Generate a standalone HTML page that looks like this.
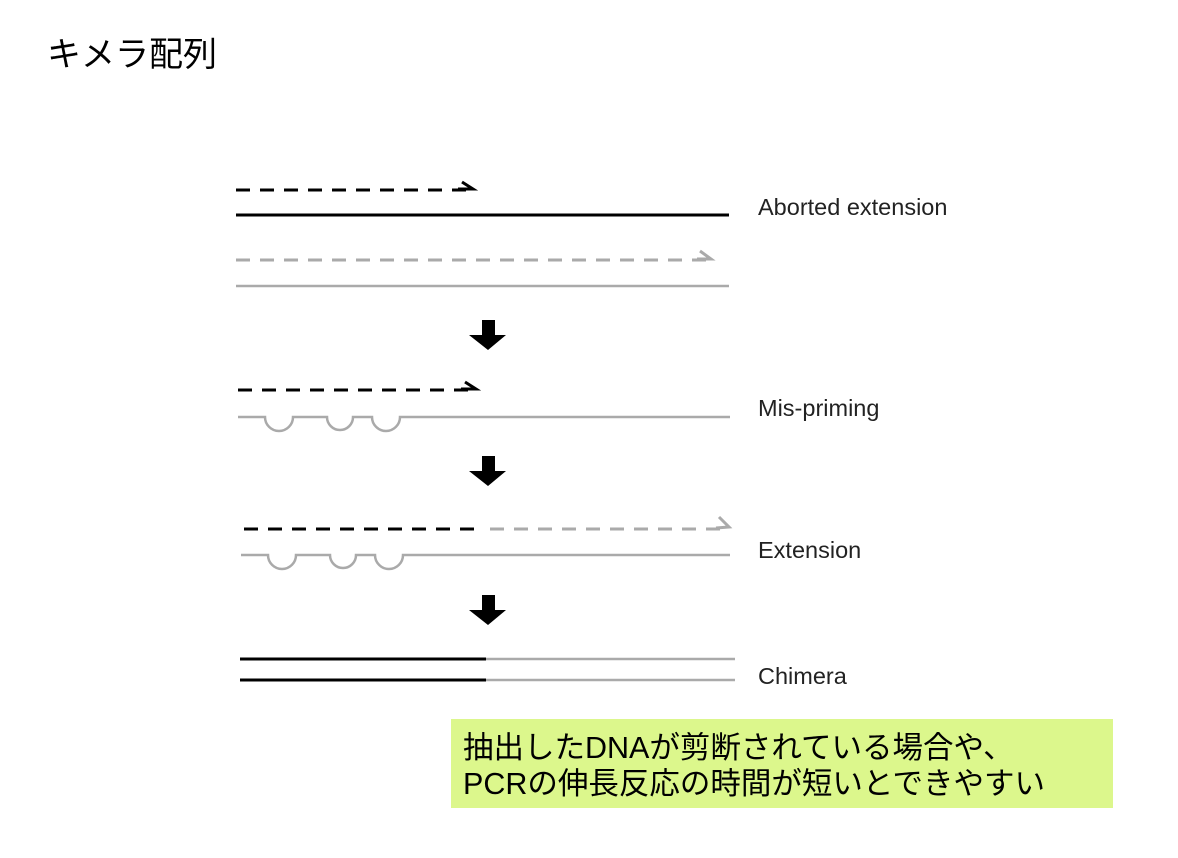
<!DOCTYPE html>
<html><head><meta charset="utf-8"><style>
body{margin:0;background:#fff;width:1178px;height:858px;overflow:hidden;position:relative;font-family:"Liberation Sans","Noto Sans CJK JP",sans-serif;}
.t{position:absolute;left:47px;top:34px;font-size:34px;color:#000;line-height:42px;white-space:nowrap}
.lbl{position:absolute;left:758px;font-size:23.5px;color:#222;line-height:26px;white-space:nowrap}
.box{position:absolute;left:451px;top:719px;width:662px;height:89px;background:#dcf78c}
.bt{position:absolute;left:463px;font-size:30.5px;line-height:35px;color:#000;white-space:nowrap}
</style></head><body>
<div class="t">キメラ配列</div>
<svg width="1178" height="858" style="position:absolute;left:0;top:0">
<g fill="none" stroke-linecap="butt">
<line x1="236" y1="190" x2="470" y2="190" stroke="#000" stroke-width="3" stroke-dasharray="14,10"/>
<path d="M462,182 L473,189 L458,189" stroke="#000" stroke-width="3"/>
<line x1="236" y1="215" x2="729" y2="215" stroke="#000" stroke-width="3"/>
<line x1="236" y1="260" x2="708" y2="260" stroke="#aaa" stroke-width="3" stroke-dasharray="14,10"/>
<path d="M700,251 L711,259 L697,259" stroke="#aaa" stroke-width="3"/>
<line x1="236" y1="286" x2="729" y2="286" stroke="#aaa" stroke-width="2.5"/>

<line x1="238" y1="390" x2="472" y2="390" stroke="#000" stroke-width="3" stroke-dasharray="14,10"/>
<path d="M465,382 L476,389 L461,389" stroke="#000" stroke-width="3"/>
<path d="M238,417 H265 A14,14 0 0 0 293,417 H327 A13,13 0 0 0 353,417 H372 A14,14 0 0 0 400,417 H730" stroke="#aaa" stroke-width="2.5"/>

<line x1="244" y1="529" x2="484" y2="529" stroke="#000" stroke-width="3" stroke-dasharray="14,10"/>
<line x1="490" y1="529" x2="724" y2="529" stroke="#aaa" stroke-width="3" stroke-dasharray="14,10"/>
<path d="M719,517 L729,527 L716,528" stroke="#aaa" stroke-width="3"/>
<path d="M241,555 H268 A14,14 0 0 0 296,555 H330 A13,13 0 0 0 356,555 H375 A14,14 0 0 0 403,555 H730" stroke="#aaa" stroke-width="2.5"/>

<line x1="240" y1="659" x2="486" y2="659" stroke="#000" stroke-width="3"/>
<line x1="486" y1="659" x2="735" y2="659" stroke="#aaa" stroke-width="2.5"/>
<line x1="240" y1="680" x2="486" y2="680" stroke="#000" stroke-width="3"/>
<line x1="486" y1="680" x2="735" y2="680" stroke="#aaa" stroke-width="2.5"/>
</g>
<g fill="#000">
<path d="M482,320 H495 V335 H506 L488,350 L469,335 H482 Z"/>
<path d="M482,456 H495 V471 H506 L488,486 L469,471 H482 Z"/>
<path d="M482,595 H495 V610 H506 L488,625 L469,610 H482 Z"/>
</g>
</svg>
<div class="lbl" style="top:194px">Aborted extension</div>
<div class="lbl" style="top:395px">Mis-priming</div>
<div class="lbl" style="top:537px">Extension</div>
<div class="lbl" style="top:663px">Chimera</div>
<div class="box"></div>
<div class="bt" style="top:731px">抽出したDNAが剪断されている場合や、</div>
<div class="bt" style="top:767px">PCRの伸長反応の時間が短いとできやすい</div>
</body></html>
